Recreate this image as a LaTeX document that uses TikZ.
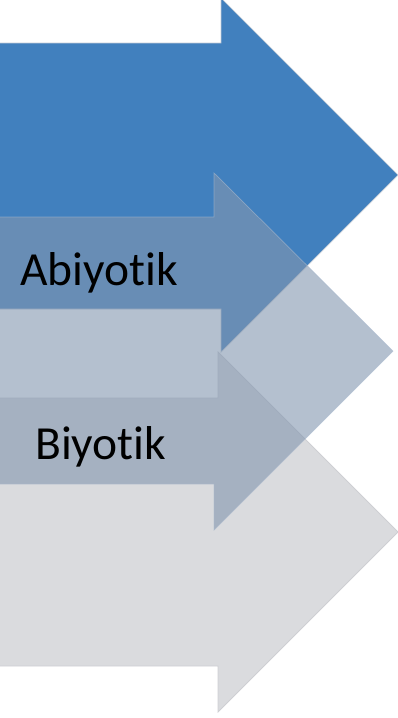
\documentclass[tikz,border=0pt]{standalone}
\usepackage{fontspec}
\setmainfont[Ligatures={NoCommon,NoRequired,NoContextual,NoRare,NoHistoric}]{Carlito}
\definecolor{blueA}{RGB}{65,128,190}
\definecolor{blueAedge}{RGB}{196,204,214}
\definecolor{grayB}{RGB}{130,150,175}
\definecolor{grayBedge}{RGB}{170,186,206}
\definecolor{grayC}{RGB}{218,219,222}
\definecolor{grayCedge}{RGB}{206,207,211}
\tikzset{
  arrowone/.style={fill=blueA, draw=blueAedge, line width=0.7pt},
  arrowtwo/.style={fill=grayB, fill opacity=0.6, draw=grayBedge, draw opacity=0.6, line width=0.7pt},
  arrowthree/.style={fill=grayC, draw=grayCedge, line width=0.8pt},
  label/.style={font=\fontsize{47.5}{52}\selectfont, text=black, inner sep=0pt, anchor=base west}
}
\begin{document}
\begin{tikzpicture}[x=1pt,y=-1pt]
\useasboundingbox (0,0) rectangle (398,718);
\clip (0,0) rectangle (398,718);
% bottom arrow
\path[arrowthree] (-10,398) -- (218,398) -- (218,352) -- (398,532) -- (218,712) -- (218,666) -- (-10,666) -- cycle;
% top arrow
\path[arrowone] (-10,43) -- (221,43) -- (221,-2) -- (398,175) -- (221,352) -- (221,309) -- (-10,309) -- cycle;
% middle arrow (translucent, on top)
\path[arrowtwo] (-10,217) -- (214,217) -- (214,173) -- (393,351) -- (214,530) -- (214,484) -- (-10,484) -- cycle;
\node[label] (abiyotik) at (20,285) {Abiyotik};
\node[label] (biyotik) at (35,459) {Biyotik};
\end{tikzpicture}
\end{document}
